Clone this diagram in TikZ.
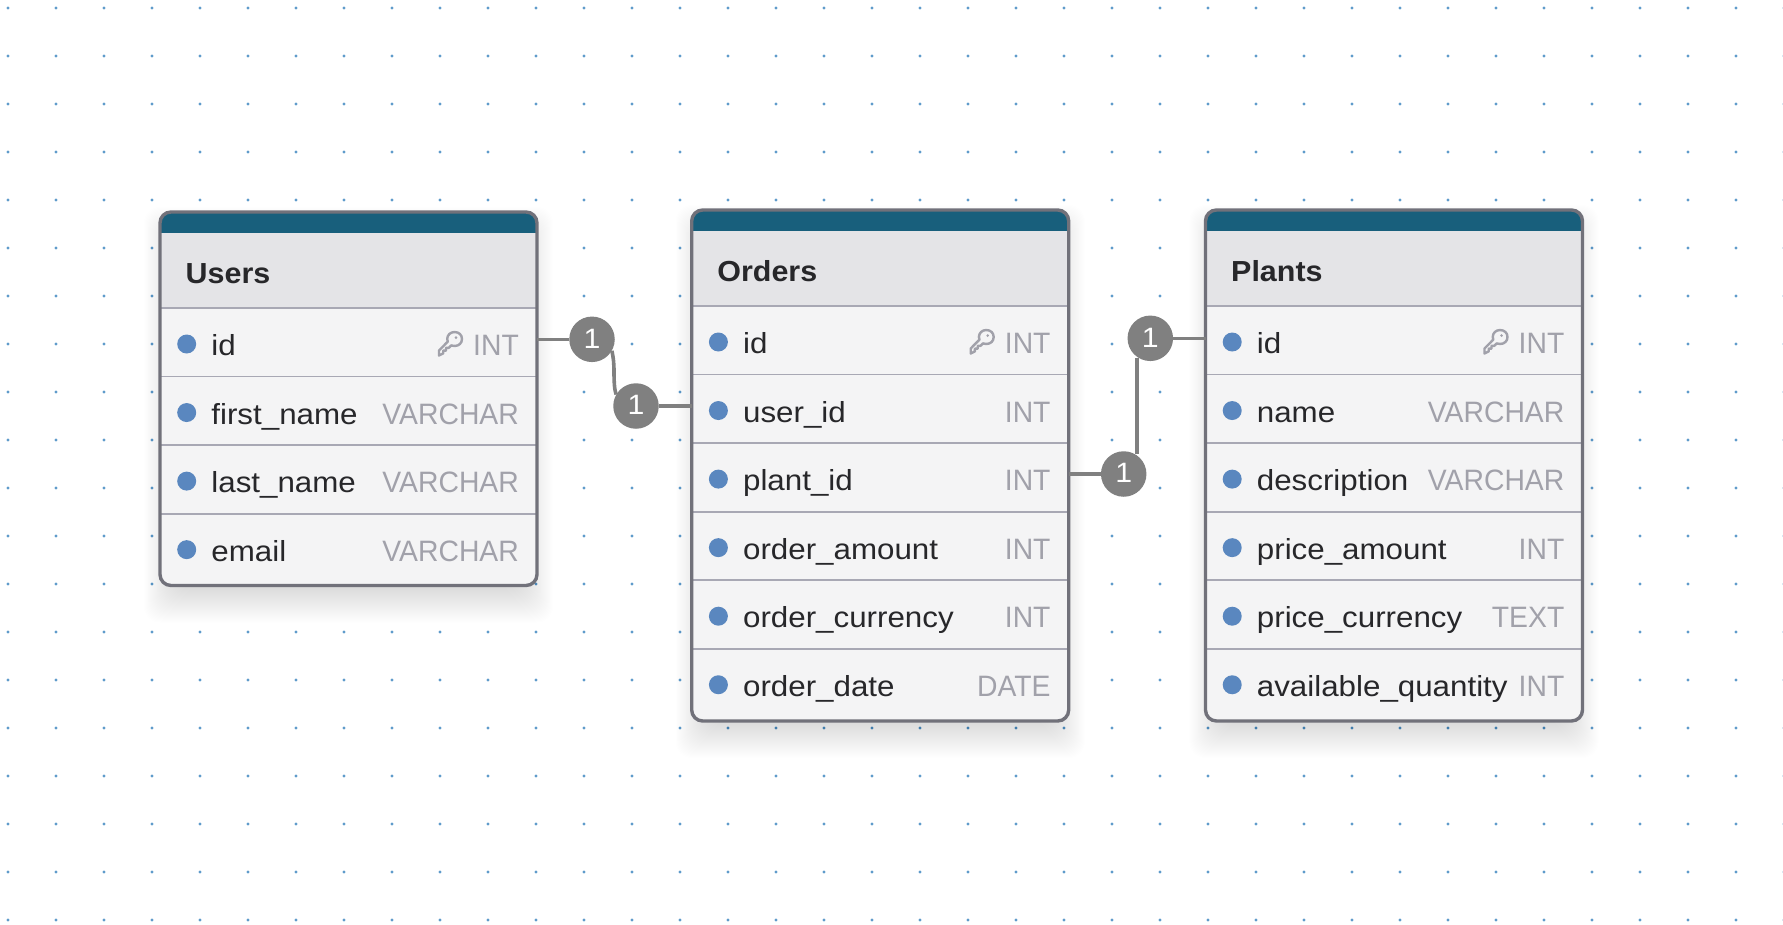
\documentclass[tikz,border=0pt]{standalone}
\usepackage{fontspec}
\setmainfont[FakeStretch=1.08]{Liberation Sans}
\newfontfamily\typeface[FakeStretch=0.96]{Liberation Sans}
\newfontfamily\boldface[FakeStretch=1.05]{Liberation Sans Bold}
\definecolor{tealbar}{HTML}{185F7C}
\definecolor{titlebg}{HTML}{E4E4E7}
\definecolor{rowbg}{HTML}{F4F4F5}
\definecolor{sep}{HTML}{A8A8B4}
\definecolor{frame}{HTML}{71717A}
\definecolor{ink}{HTML}{27272A}
\definecolor{typeink}{HTML}{A1A1AA}
\definecolor{bullet}{HTML}{5A87BF}
\definecolor{griddot}{HTML}{5F9BCB}
\definecolor{link}{HTML}{808080}
\pgfdeclarelayer{top}
\pgfsetlayers{main,top}
\tikzset{
  griddotstyle/.style={griddot,fill,draw=none},
  tableframe/.style={draw=frame,line width=3.4pt,rounded corners=11pt,outer sep=0pt},
  fieldname/.style={anchor=base west,inner sep=0pt,text=ink,font=\fontsize{29}{34}\selectfont},
  fieldtype/.style={anchor=base east,inner sep=0pt,text=typeink,font=\typeface\fontsize{29.5}{34}\selectfont},
  tabletitle/.style={anchor=base west,inner sep=0pt,text=ink,font=\boldface\fontsize{29}{34}\selectfont},
  bulletdot/.style={circle,fill=bullet,minimum size=19pt,inner sep=0pt},
  connector/.style={draw=link,line width=3.6pt},
  badge/.style={circle,fill=link,minimum size=45.5pt,inner sep=0pt,text=white,font=\fontsize{28}{34}\selectfont},
  keyicon/.style={draw=typeink,line width=2.4pt,line join=round,line cap=round}
}
% #1 id, #2 left, #3 top, #4 title, #5 rows, #6 bottom
\newcommand{\erdtable}[6]{%
  \pgfmathsetmacro{\tr}{#2+377}%
  % soft shadow
  \foreach \g in {1,...,36}{%
    \fill[black,opacity=0.0035,rounded corners=16pt]
      ({#2-17+0.9*\g},{#3-6+\g}) rectangle ({\tr+17-0.9*\g},{#6+38-\g});
  }%
  \begin{scope}
    \clip[rounded corners=11pt] (#2,#3) rectangle (\tr,#6);
    \fill[rowbg] (#2,#3) rectangle (\tr,#6);
    \fill[titlebg] (#2,#3) rectangle (\tr,#3+96);
    \fill[tealbar] (#2,#3) rectangle (\tr,#3+21);
  \end{scope}
  \node[tabletitle] (#1-title) at (#2+25.5,#3+71) {#4};
  \foreach \nm/\ty/\k [count=\r from 0] in {#5}{%
    \pgfmathsetmacro{\ly}{#3+96+\r*68.55}%
    \pgfmathsetmacro{\by}{\ly+47.6}%
    \draw[sep,line width=1.8pt] (#2,\ly) -- (\tr,\ly);
    \node[bulletdot] (#1-dot\r) at (#2+26.7,\ly+36) {};
    \node[fieldname] (#1-name\r) at (#2+51.2,\by) {\nm};
    \node[fieldtype] (#1-type\r) at (\tr-18,\by) {\ty};
    \ifnum\k=1
      \begin{scope}[shift={(\tr-99,\by-24.6)}]
        \draw[keyicon] (16.5,1) .. controls (21,1) and (24,4) .. (24,8)
          .. controls (24,12) and (21,15) .. (16.5,15)
          .. controls (15,15) and (14,14.7) .. (13.2,14.4)
          -- (10.8,16.8) -- (8,16.8) -- (8,19.6) -- (5.2,19.6) -- (5.2,22.4)
          -- (1,24.5) -- (1,19.5) -- (9.8,10.6)
          .. controls (9.5,9.8) and (9.2,9) .. (9.2,8)
          .. controls (9.2,4) and (12.5,1) .. (16.5,1) -- cycle;
        \fill[typeink] (18,6.6) circle (1.4);
      \end{scope}
    \fi
  }%
  \node[tableframe,anchor=north west,minimum width=377pt,minimum height={#6-#3},inner sep=0pt] (#1) at (#2,#3) {};
}
\begin{document}
\begin{tikzpicture}[x=1pt,y=-1pt]
\useasboundingbox (0,0) rectangle (1783,924);
\fill[white] (0,0) rectangle (1783,924);
\foreach \i in {0,...,37}{\foreach \j in {0,...,19}{
  \fill[griddotstyle] ({8+48*\i},{8+48*\j}) circle (1.7);
}}
\erdtable{users}{160}{212}{Users}{id/INT/1,first\_name/VARCHAR/0,last\_name/VARCHAR/0,email/VARCHAR/0}{585.5}
\erdtable{orders}{691.7}{210}{Orders}{id/INT/1,user\_id/INT/0,plant\_id/INT/0,order\_amount/INT/0,order\_currency/INT/0,order\_date/DATE/0}{721}
\erdtable{plants}{1205.5}{210}{Plants}{id/INT/1,name/VARCHAR/0,description/VARCHAR/0,price\_amount/INT/0,price\_currency/TEXT/0,available\_quantity/INT/0}{721}
\coordinate (kneeA) at (614,372);
\coordinate (vline) at (1137,400);
\begin{pgfonlayer}{top}
\node[badge] (b1) at (592,339.3) {\raisebox{1.5pt}{1}};
\node[badge] (b2) at (636,406) {\raisebox{1.5pt}{1}};
\node[badge] (b3) at (1123.7,474) {\raisebox{1.5pt}{1}};
\node[badge] (b4) at (1150.3,338.3) {\raisebox{1.5pt}{1}};
\end{pgfonlayer}
\draw[connector] (users.east |- b1) -- (b1);
\draw[connector] (orders.west |- b2) -- (b2);
\draw[connector] (orders.east |- b3) -- (b3);
\draw[connector] (plants.west |- b4) -- (b4);
\draw[connector] (b1.-30) .. controls (613.5,358) and (614,364) .. (kneeA) .. controls (614,382) and (614.5,390) .. (b2.150);
\draw[connector] (b3.60 -| vline) -- (b4.-120 -| vline);
\end{tikzpicture}
\end{document}
